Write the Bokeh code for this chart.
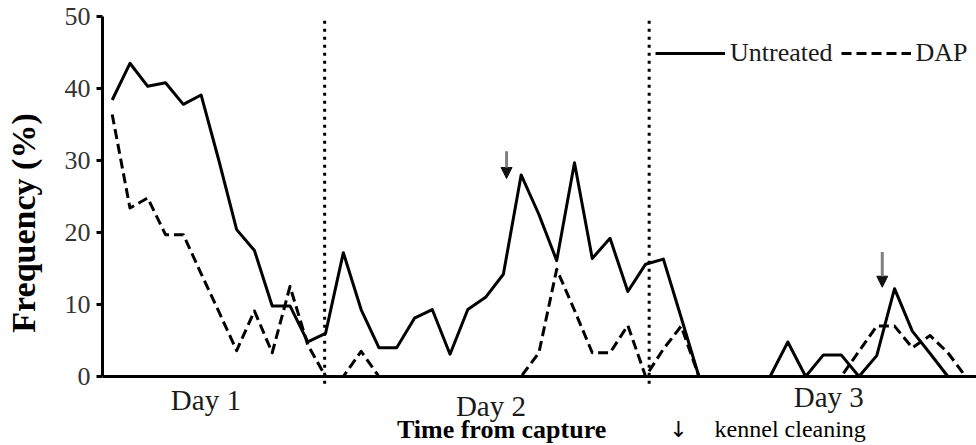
from bokeh.plotting import figure
from bokeh.models import (Range1d, FixedTicker, Arrow, NormalHead, Legend,
                          LegendItem, ColumnDataSource)
from bokeh.core.properties import value
from bokeh.embed import file_html
from bokeh.resources import INLINE

# ---- data (frequency %, one value per time step) ----
untreated = [38.4, 43.5, 40.3, 40.8, 37.8, 39.1, 30.0, 20.4, 17.5, 9.8,
             9.8, 4.8, 6.0, 17.2, 9.3, 4.0, 4.0, 8.1, 9.3, 3.1,
             9.3, 11.0, 14.2, 28.0, 22.5, 16.1, 29.7, 16.4, 19.2, 11.8,
             15.6, 16.3, 8.2, 0, 0, 0, 0, 0, 4.8, 0,
             3.0, 3.0, 0, 2.9, 12.2, 6.3, 3.2, 0, 0]
dap = [36.4, 23.4, 24.8, 19.7, 19.7, 14.3, 9.0, 3.6, 9.1, 3.3,
       12.5, 4.4, 0, 0, 3.5, 0, 0, 0, 0, 0,
       0, 0, 0, 0, 3.3, 14.9, 9.2, 3.3, 3.3, 7.1,
       0, 3.8, 7.0, 0, 0, 0, 0, 0, 0, 0,
       0, 0, 3.5, 7.0, 7.0, 4.0, 5.7, 3.3, 0]
steps = list(range(len(untreated)))

y_ticks = [0, 10, 20, 30, 40, 50]
day_labels = ["Day 1", "Day 2", "Day 3"]
series_names = ["Untreated", "DAP"]

# annotation positions (in step / % units)
day_label_x = [5.27, 21.3, 40.3]
day_label_y = [-3.2, -4.1, -2.8]
day_divider_x = [11.95, 30.2]
cleaning_x = [22.18, 43.31]
cleaning_y_start = [31.3, 17.3]
cleaning_y_end = [27.5, 12.4]
note_y = -7.3

src = ColumnDataSource(dict(x=steps, u=untreated, d=dap))

p = figure(width=976, height=445, output_backend="svg", toolbar_location=None,
           x_range=Range1d(-0.545, 48.61), y_range=Range1d(-9.58, 52.22),
           min_border_left=102, min_border_right=0, min_border_top=0,
           min_border_bottom=0)
p.outline_line_color = None
p.xgrid.visible = False
p.ygrid.visible = False
p.background_fill_color = "white"
p.border_fill_color = "white"

# y axis
p.yaxis.ticker = FixedTicker(ticks=y_ticks)
p.yaxis.bounds = (0, 50)
p.yaxis.axis_line_width = 3
p.yaxis.axis_line_color = "black"
p.yaxis.major_tick_line_width = 3
p.yaxis.major_tick_line_color = "black"
p.yaxis.major_tick_out = 6
p.yaxis.major_tick_in = 0
p.yaxis.minor_tick_line_color = None
p.yaxis.major_label_text_font = "Liberation Serif"
p.yaxis.major_label_text_font_size = "26px"
p.yaxis.major_label_text_color = "#333333"
p.yaxis.major_label_standoff = 6
p.yaxis.axis_label = "Frequency (%)"
p.yaxis.axis_label_text_font = "Liberation Serif"
p.yaxis.axis_label_text_font_style = "bold"
p.yaxis.axis_label_text_font_size = "34px"
p.yaxis.axis_label_text_color = "black"
p.yaxis.axis_label_standoff = 20

# x axis at 0
p.xaxis.fixed_location = 0
p.xaxis.ticker = FixedTicker(ticks=[])
p.xaxis.major_label_text_font_size = "0px"
p.xaxis.major_tick_line_color = None
p.xaxis.minor_tick_line_color = None
p.xaxis.axis_line_width = 3
p.xaxis.axis_line_color = "black"

# day dividers
p.segment(x0=day_divider_x, y0=[-1.0] * 2, x1=day_divider_x, y1=[49.7] * 2,
          line_color="black", line_width=3, line_dash="3 5")

r1 = p.line("x", "u", source=src, line_color="black", line_width=3,
            line_join="round")
r2 = p.line("x", "d", source=src, line_color="black", line_width=3,
            line_dash="10 5", line_join="round")

legend = Legend(items=[LegendItem(label=series_names[0], renderers=[r1]),
                       LegendItem(label=series_names[1], renderers=[r2])],
                orientation="horizontal", location=(553, 377),
                glyph_width=70, glyph_height=20, label_standoff=5, spacing=8,
                padding=0, margin=0, background_fill_alpha=0,
                border_line_color=None, label_text_font="Liberation Serif",
                label_text_font_size="26px", label_text_color="#1a1a1a")
p.add_layout(legend)

# kennel cleaning arrows
for xa, ys, ye in zip(cleaning_x, cleaning_y_start, cleaning_y_end):
    p.add_layout(Arrow(end=NormalHead(size=11, fill_color="#111111",
                                      line_color="#111111", line_width=1),
                       x_start=xa, y_start=ys, x_end=xa, y_end=ye,
                       line_color="#808080", line_width=3))

# day labels
p.text(x=day_label_x, y=day_label_y, text=day_labels, text_align="center",
       text_baseline="alphabetic", text_font=value("Liberation Serif"),
       text_font_size="29px", text_color="#1a1a1a")

# axis title and note
p.text(x=[21.9], y=[note_y], text=["Time from capture"], text_align="center",
       text_baseline="alphabetic", text_font=value("Liberation Serif"),
       text_font_style="bold", text_font_size="26px", text_color="black")
p.text(x=[31.85], y=[note_y], text=["\u2193"], text_align="center",
       text_baseline="alphabetic", text_font=value("DejaVu Sans"),
       text_font_size="22px", text_color="black")
p.text(x=[33.88], y=[note_y], text=["kennel cleaning"], text_align="left",
       text_baseline="alphabetic", text_font=value("Liberation Serif"),
       text_font_size="24px", text_color="black")

open("out.html", "w").write(file_html(p, INLINE))
